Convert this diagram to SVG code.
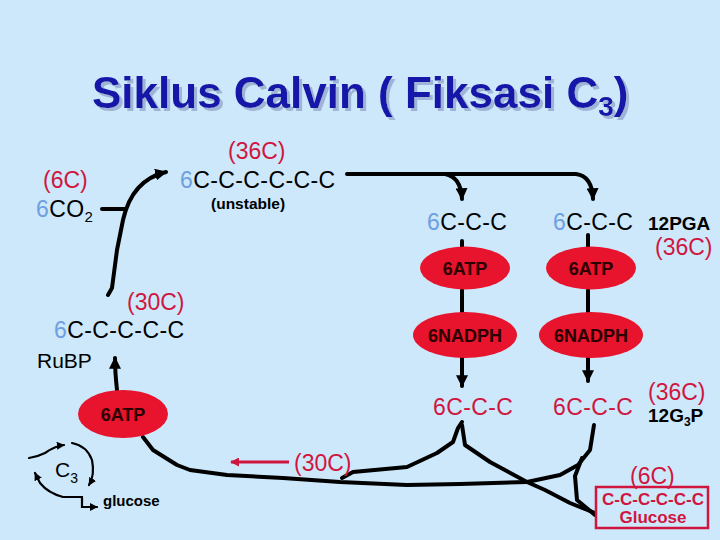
<svg xmlns="http://www.w3.org/2000/svg" width="720" height="540" viewBox="0 0 720 540">
<defs>
<filter id="shadow" x="-5%" y="-20%" width="110%" height="140%">
<feFlood flood-color="#9fb4d6" result="c"/>
<feComposite in="c" in2="SourceAlpha" operator="in" result="s"/>
<feOffset in="s" dx="3" dy="3" result="o"/>
<feMerge><feMergeNode in="o"/><feMergeNode in="SourceGraphic"/></feMerge>
</filter>
<marker id="ah" markerWidth="12" markerHeight="12" refX="9" refY="5" orient="auto" markerUnits="userSpaceOnUse" viewBox="0 0 10 10"><path d="M0,0 L10,5 L0,10 z" fill="#000"/></marker>
<marker id="ahs" markerWidth="8" markerHeight="8" refX="9" refY="5" orient="auto" markerUnits="userSpaceOnUse" viewBox="0 0 10 10"><path d="M0,0 L10,5 L0,10 z" fill="#000"/></marker>
<marker id="ahr" markerWidth="9" markerHeight="9" refX="9" refY="5" orient="auto" markerUnits="userSpaceOnUse" viewBox="0 0 10 10"><path d="M0,0 L10,5 L0,10 z" fill="#d0163f"/></marker>
<style>
text{font-family:"Liberation Sans",Arial,sans-serif;}
.t{font-size:23px;fill:#000;letter-spacing:0.4px}
.r{font-size:23px;fill:#d0163f;}
.b6{fill:#6f9fe0}
.ell{fill:#e8132c}
.et{font-size:18px;font-weight:bold;fill:#2a0000;text-anchor:middle}
.ln{fill:none;stroke:#000;stroke-width:4;stroke-linecap:round;stroke-linejoin:round}
.thin{fill:none;stroke:#000;stroke-width:2.2;stroke-linecap:round}
</style>
</defs>
<rect width="720" height="540" fill="#cce8fa"/>

<g id="title">
<text x="92" y="108" font-size="44" font-weight="bold" fill="#1414a8" filter="url(#shadow)">Siklus Calvin ( Fiksasi C<tspan font-size="28" dy="8">3</tspan><tspan dy="-8">)</tspan></text>
</g>

<g id="connectors">
<path class="ln" d="M347,174 L576,174 Q592,176 593,199" marker-end="url(#ah)"/>
<path class="ln" d="M445,174 Q461,177 462,199" marker-end="url(#ah)"/>
<path class="ln" d="M102,209 L126,209"/>
<path class="ln" d="M108,295 L112,288 L117,250 L123,220 Q132,180 166,172" marker-end="url(#ah)"/>
<path class="ln" d="M462,241 L462,247 M462,290 L462,312"/>
<path class="ln" d="M588,235 L588,247 M588,290 L588,312"/>
<path class="ln" d="M462,358 L462,386" marker-end="url(#ah)"/>
<path class="ln" d="M588,358 L588,381" marker-end="url(#ah)"/>
<path class="ln" d="M117,390 Q115,372 115,358" marker-end="url(#ah)"/>
<path class="ln" d="M143,437 L153,450 L177,465 L190,470 L227,475 L283,478 L340,482 L407,485 L460,484 L527,482"/>
<path class="ln" d="M342,478 L353,472 L407,467 L437,453 L453,442 L458,428 L462,422"/>
<path class="ln" d="M462,425 L465,445 L490,462 L527,482 L545,490 L570,503 L595,513"/>
<path class="ln" d="M594,425 L590,450 L578,465 L560,475 L527,482"/>
<path class="ln" d="M582,458 L575,476 L577,500 L595,515"/>
<path fill="none" stroke="#d0163f" stroke-width="3" d="M289,462 L231,462" marker-end="url(#ahr)"/>
<path class="thin" d="M29,458 Q37,457 45,453 Q55,446 64,445" marker-end="url(#ahs)"/>
<path class="thin" d="M72,443 Q87,446 92,460 Q95,475 89,485" marker-end="url(#ahs)"/>
<path class="thin" d="M82,497 L63,497 Q48,493 40,483 L35,473" marker-end="url(#ahs)"/>
<path class="thin" d="M82,497 L82,507 L97,507" marker-end="url(#ahs)"/>
</g>

<g id="co2">
<text class="r" x="43" y="188">(6C)</text>
<text class="t" x="36" y="217"><tspan class="b6">6</tspan>CO<tspan font-size="15" dy="5">2</tspan></text>
</g>

<g id="unstable">
<text class="r" x="228" y="159">(36C)</text>
<text class="t" x="180" y="188"><tspan class="b6">6</tspan>C-C-C-C-C-C</text>
<text x="211" y="209" font-size="15.5" font-weight="bold">(unstable)</text>
</g>

<g id="pga1">
<text class="t" x="427" y="230"><tspan class="b6">6</tspan>C-C-C</text>
</g>
<g id="pga2">
<text class="t" x="553" y="230"><tspan class="b6">6</tspan>C-C-C</text>
<text x="648" y="230" font-size="19" font-weight="bold">12PGA</text>
<text class="r" x="655" y="255">(36C)</text>
</g>

<g id="atp1"><ellipse class="ell" cx="465" cy="268" rx="45" ry="21.5"/><text class="et" x="465" y="275">6ATP</text></g>
<g id="atp2"><ellipse class="ell" cx="591" cy="268" rx="45" ry="21.5"/><text class="et" x="591" y="275">6ATP</text></g>
<g id="nadph1"><ellipse class="ell" cx="465" cy="335" rx="52" ry="23"/><text class="et" x="465" y="342">6NADPH</text></g>
<g id="nadph2"><ellipse class="ell" cx="591" cy="335" rx="52" ry="23"/><text class="et" x="591" y="342">6NADPH</text></g>

<g id="g3p1"><text class="r" x="433" y="415" letter-spacing="0.4">6C-C-C</text></g>
<g id="g3p2">
<text class="r" x="553" y="415" letter-spacing="0.4">6C-C-C</text>
<text class="r" x="648" y="400">(36C)</text>
<text x="648" y="422" font-size="19" font-weight="bold">12G<tspan font-size="12" dy="4">3</tspan><tspan dy="-4">P</tspan></text>
</g>

<g id="glucose">
<text class="r" x="630" y="484">(6C)</text>
<rect x="596" y="487" width="112" height="41" fill="none" stroke="#d0163f" stroke-width="2.5"/>
<text x="653" y="505" font-size="17" font-weight="bold" fill="#d0163f" text-anchor="middle">C-C-C-C-C-C</text>
<text x="653" y="523" font-size="17" font-weight="bold" fill="#d0163f" text-anchor="middle">Glucose</text>
</g>

<g id="rubp">
<text class="r" x="127" y="310">(30C)</text>
<text class="t" x="54" y="338"><tspan class="b6">6</tspan>C-C-C-C-C</text>
<text x="37" y="368" font-size="21" fill="#000">RuBP</text>
</g>

<g id="atp3"><ellipse class="ell" cx="123" cy="414" rx="45" ry="24"/><text class="et" x="123" y="421">6ATP</text></g>

<g id="c30"><text class="r" x="294" y="471">(30C)</text></g>

<g id="c3cycle">
<text x="55" y="477" font-size="21" fill="#000">C<tspan font-size="14" dy="6">3</tspan></text>
<text x="103" y="506" font-size="15" font-weight="bold" fill="#000">glucose</text>
</g>
</svg>
